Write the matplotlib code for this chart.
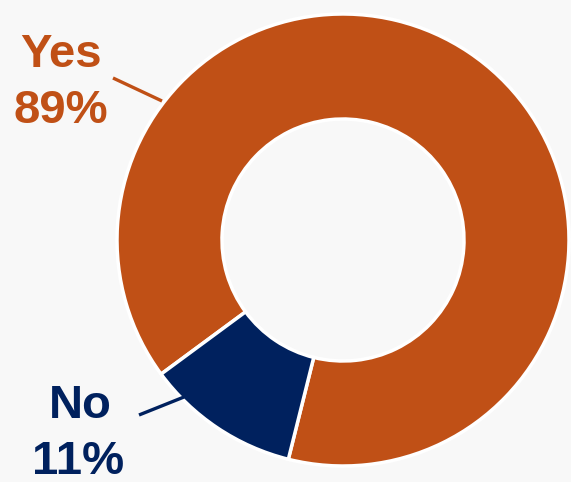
import matplotlib
matplotlib.use("Agg")
import matplotlib.pyplot as plt

labels = ["Yes", "No"]
values = [89, 11]
colors = ["#C05016", "#00215E"]

W, H = 571, 482
fig = plt.figure(figsize=(W / 100, H / 100), dpi=100)
fig.patch.set_facecolor("#F8F8F8")
ax = fig.add_axes([0, 0, 1, 1])
ax.set_facecolor("#F8F8F8")

cx, cy = 343, H - 240
R = 226
ax.pie(values, colors=colors, startangle=-104, counterclock=True,
       center=(cx, cy), radius=R,
       wedgeprops=dict(width=R - 121, edgecolor="white", linewidth=2.5))
ax.set_xlim(0, W)
ax.set_ylim(0, H)
ax.set_aspect("equal")
ax.axis("off")

font = ["Liberation Sans", "DejaVu Sans"]
fs = 34
ax.text(61, H - 67, labels[0], color=colors[0], fontsize=fs, fontweight="bold",
        family=font, ha="center", va="baseline")
ax.text(61, H - 123, f"{values[0]}%", color=colors[0], fontsize=fs, fontweight="bold",
        family=font, ha="center", va="baseline")
ax.plot([113, 162], [H - 78, H - 101], color=colors[0], lw=2.4, solid_capstyle="butt")

ax.text(80, H - 418, labels[1], color=colors[1], fontsize=fs, fontweight="bold",
        family=font, ha="center", va="baseline")
ax.text(78, H - 474, f"{values[1]}%", color=colors[1], fontsize=fs, fontweight="bold",
        family=font, ha="center", va="baseline")
ax.plot([139, 184], [H - 415, H - 397], color=colors[1], lw=2.4, solid_capstyle="butt")

fig.savefig("out.png", dpi=100, facecolor=fig.get_facecolor())
